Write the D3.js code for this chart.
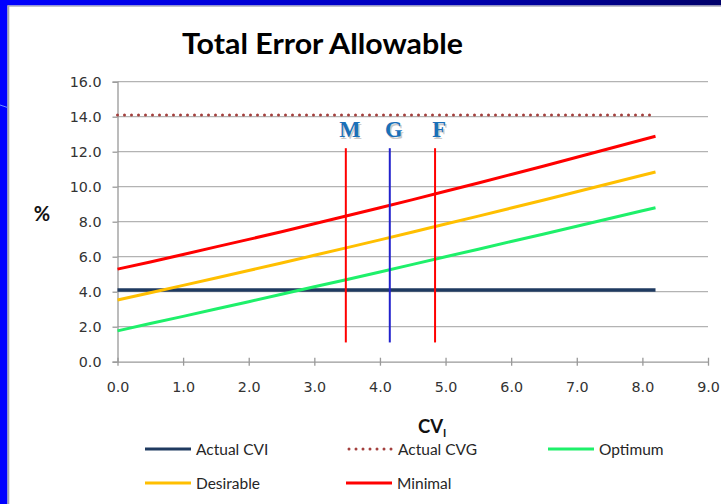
<!DOCTYPE html>
<html>
<head>
<meta charset="utf-8">
<script src="https://cdn.jsdelivr.net/npm/d3@7"></script>
<style>
  html, body { margin: 0; padding: 0; background: #fff; }
  svg { display: block; }
</style>
</head>
<body>
<svg id="chart" width="721" height="504"></svg>
<script>
// Imprecision (CVI) values along the x axis
const cviValues = [0, 0.5, 1.0, 1.5, 2.0, 2.5, 3.0, 3.5, 4.0, 4.5, 5.0, 5.5, 6.0, 6.5, 7.0, 7.5, 8.0, 8.2];

// Total error allowable (%) for each quality level
const optimum   = [1.76, 2.18, 2.59, 3.01, 3.43, 3.85, 4.28, 4.70, 5.13, 5.56, 6.00, 6.43, 6.87, 7.30, 7.74, 8.18, 8.63, 8.80];
const desirable = [3.53, 3.94, 4.36, 4.78, 5.21, 5.64, 6.08, 6.52, 6.96, 7.41, 7.87, 8.32, 8.78, 9.24, 9.71, 10.18, 10.65, 10.84];
const minimal   = [5.29, 5.70, 6.13, 6.56, 6.99, 7.43, 7.88, 8.34, 8.80, 9.26, 9.74, 10.21, 10.70, 11.18, 11.68, 12.18, 12.68, 12.88];

// Flat reference lines
const refX      = [0, 8.2];
const actualCVI = [4.1, 4.1];
const actualCVG = [14.1, 14.1];

// Vertical markers
const markerLabels = ["M", "G", "F"];
const markerCV     = [3.48, 4.15, 4.84];
const markerRange  = [1.1, 12.2];

// Axis ticks
const xTicks = [0, 1, 2, 3, 4, 5, 6, 7, 8, 9];
const yTicks = [0, 2, 4, 6, 8, 10, 12, 14, 16];

const svg = d3.select("#chart");

// ---- slide frame ----
const defs = svg.append("defs");
const grad = defs.append("linearGradient").attr("id", "topband").attr("x1", 0).attr("x2", 1).attr("y1", 0).attr("y2", 0);
grad.append("stop").attr("offset", "0%").attr("stop-color", "#0000ff");
grad.append("stop").attr("offset", "60%").attr("stop-color", "#0000b8");
grad.append("stop").attr("offset", "100%").attr("stop-color", "#00006a");
svg.append("rect").attr("x", 0).attr("y", 0).attr("width", 721).attr("height", 5.5).attr("fill", "url(#topband)");
svg.append("rect").attr("x", 0).attr("y", 0).attr("width", 7.5).attr("height", 504).attr("fill", "#0000ff");
svg.append("rect").attr("x", 7.5).attr("y", 5.5).attr("width", 714).attr("height", 1.2).attr("fill", "#a8a8b8");
svg.append("rect").attr("x", 7.5).attr("y", 5.5).attr("width", 1.8).attr("height", 499).attr("fill", "#a8a8a8");
svg.append("line").attr("x1", 0).attr("y1", 105).attr("x2", 7.5).attr("y2", 107.5)
  .attr("stroke", "#6f8fff").attr("stroke-width", 1);

// ---- scales ----
const x = d3.scaleLinear().domain([0, 9]).range([117.5, 708]);
const y = d3.scaleLinear().domain([0, 16]).range([361.7, 81.7]);

// ---- title ----
svg.append("text")
  .attr("x", 182).attr("y", 54)
  .attr("font-family", "Lato, sans-serif").attr("font-weight", 700)
  .attr("font-size", 28).attr("fill", "#000")
  .attr("textLength", 281).attr("lengthAdjust", "spacingAndGlyphs")
  .text("Total Error Allowable");

// ---- gridlines ----
svg.append("g")
  .selectAll("line")
  .data(yTicks.filter(d => d > 0))
  .join("line")
  .attr("x1", x(0)).attr("x2", x(9))
  .attr("y1", d => y(d)).attr("y2", d => y(d))
  .attr("stroke", "#b3b3b3").attr("stroke-width", 1.3);

// ---- axes ----
const axisFont = "'DejaVu Sans', Verdana, sans-serif";
const yAxis = svg.append("g")
  .attr("transform", `translate(${x(0)},0)`)
  .call(d3.axisLeft(y).tickValues(yTicks).tickFormat(d3.format(".1f")).tickSize(5).tickPadding(11));
yAxis.select(".domain").attr("stroke", "#999").attr("stroke-width", 1.3);
yAxis.selectAll(".tick line").attr("stroke", "#999").attr("stroke-width", 1.3);
yAxis.selectAll(".tick text").attr("font-family", axisFont).attr("font-size", 14.3).attr("fill", "#333");

const xAxis = svg.append("g")
  .attr("transform", `translate(0,${y(0)})`)
  .call(d3.axisBottom(x).tickValues(xTicks).tickFormat(d3.format(".1f")).tickSizeInner(4).tickSizeOuter(0).tickPadding(16));
xAxis.select(".domain").attr("stroke", "#999").attr("stroke-width", 1.3);
xAxis.selectAll(".tick line").attr("y1", -4).attr("y2", 4).attr("stroke", "#999").attr("stroke-width", 1.3);
xAxis.selectAll(".tick text").attr("font-family", axisFont).attr("font-size", 14.3).attr("fill", "#333");

// ---- axis titles ----
svg.append("text")
  .attr("x", 42).attr("y", 221).attr("text-anchor", "middle")
  .attr("font-family", "Lato, sans-serif").attr("font-weight", 700).attr("font-size", 20)
  .attr("fill", "#111").text("%");

const xt = svg.append("text")
  .attr("x", 418).attr("y", 433)
  .attr("font-family", "Lato, sans-serif").attr("font-weight", 700).attr("font-size", 18.5)
  .attr("fill", "#111");
xt.append("tspan").text("CV");
xt.append("tspan").attr("dy", 4).attr("font-size", 11).text("I");

// ---- series ----
const line = d3.line().x(d => x(d[0])).y(d => y(d[1]));
const zipped = (xs, ys) => xs.map((v, i) => [v, ys[i]]);

const series = [
  { name: "Actual CVI", xs: refX,      ys: actualCVI, color: "#1f3a60", width: 3.5, dash: null },
  { name: "Actual CVG", xs: refX,      ys: actualCVG, color: "#a3403e", width: 3,   dash: "0 7" },
  { name: "Optimum",    xs: cviValues, ys: optimum,   color: "#1ef06a", width: 3,   dash: null },
  { name: "Desirable",  xs: cviValues, ys: desirable, color: "#ffbf00", width: 3,   dash: null },
  { name: "Minimal",    xs: cviValues, ys: minimal,   color: "#ff0000", width: 3,   dash: null }
];

svg.append("g")
  .selectAll("path")
  .data(series)
  .join("path")
  .attr("d", s => line(zipped(s.xs, s.ys)))
  .attr("fill", "none")
  .attr("stroke", s => s.color)
  .attr("stroke-width", s => s.width)
  .attr("stroke-linecap", s => s.dash ? "round" : "butt")
  .attr("stroke-dasharray", s => s.dash);

// ---- vertical markers ----
const markerColors = ["#ff0000", "#2222cc", "#ff0000"];
const mk = svg.append("g");
mk.selectAll("line")
  .data(markerCV)
  .join("line")
  .attr("x1", d => x(d)).attr("x2", d => x(d))
  .attr("y1", y(markerRange[0])).attr("y2", y(markerRange[1]))
  .attr("stroke", (d, i) => markerColors[i]).attr("stroke-width", 2);

const labelFont = "'Liberation Serif', 'Times New Roman', serif";
mk.selectAll("text.shadow")
  .data(markerCV)
  .join("text")
  .attr("class", "shadow")
  .attr("x", (d, i) => x(d) + 4 + 1.5).attr("y", 137 + 1.5)
  .attr("text-anchor", "middle")
  .attr("font-family", labelFont).attr("font-weight", 700).attr("font-size", 22.5)
  .attr("fill", "#c8c8c8")
  .text((d, i) => markerLabels[i]);
mk.selectAll("text.label")
  .data(markerCV)
  .join("text")
  .attr("class", "label")
  .attr("x", (d, i) => x(d) + 4).attr("y", 137)
  .attr("text-anchor", "middle")
  .attr("font-family", labelFont).attr("font-weight", 700).attr("font-size", 22.5)
  .attr("fill", "#1a70b8")
  .text((d, i) => markerLabels[i]);

// ---- legend ----
const legendPos = [[145, 449], [346, 449], [548, 449], [145, 483], [346, 483]];
const lg = svg.append("g").selectAll("g")
  .data(series)
  .join("g")
  .attr("transform", (s, i) => `translate(${legendPos[i][0]},${legendPos[i][1]})`);
lg.append("line")
  .attr("x1", s => s.dash ? 3 : 0).attr("x2", 46).attr("y1", 0).attr("y2", 0)
  .attr("stroke", s => s.color).attr("stroke-width", 3)
  .attr("stroke-linecap", s => s.dash ? "round" : "butt")
  .attr("stroke-dasharray", s => s.dash);
lg.append("text")
  .attr("x", s => s.dash ? 52 : 51).attr("y", 5.5)
  .attr("font-family", "Lato, sans-serif").attr("font-size", 15.5)
  .attr("fill", "#262626")
  .text(s => s.name);
</script>
</body>
</html>
